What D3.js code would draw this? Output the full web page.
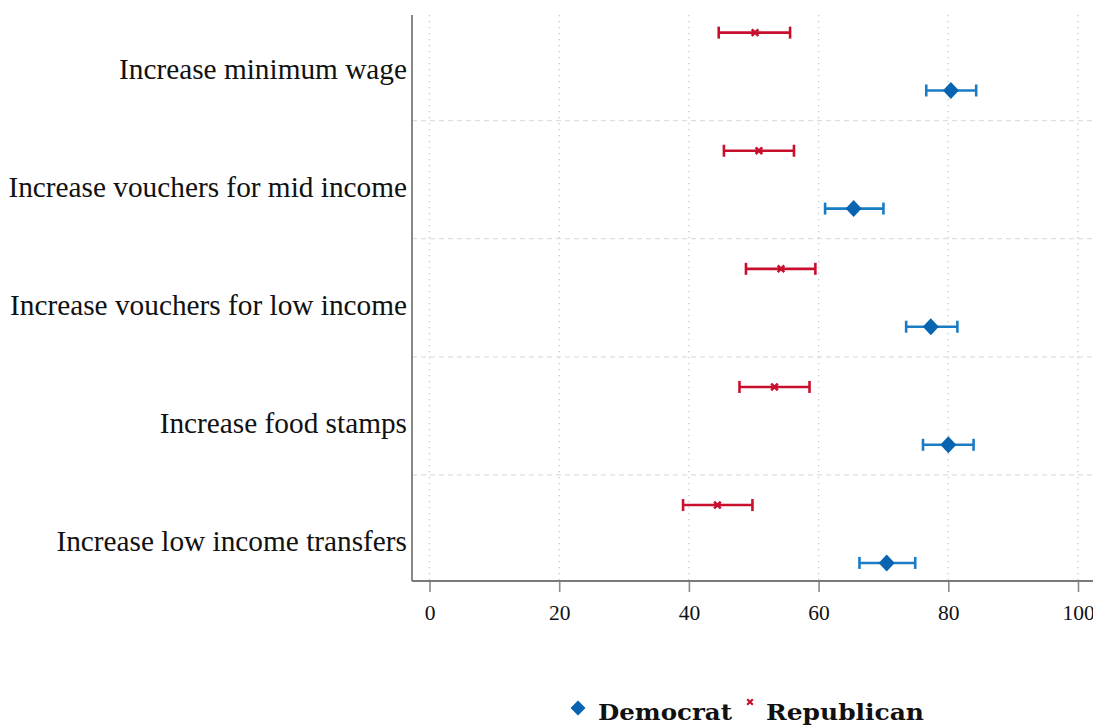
<!DOCTYPE html>
<html>
<head>
<meta charset="utf-8">
<script src="https://cdn.jsdelivr.net/npm/d3@7"></script>
<style>
  html, body { margin: 0; padding: 0; background: #fff; }
  svg { display: block; }
</style>
</head>
<body>
<svg id="chart" width="1093" height="727"></svg>
<script>
// Policy support by party: point estimates with confidence intervals
const categories = [
  "Increase minimum wage",
  "Increase vouchers for mid income",
  "Increase vouchers for low income",
  "Increase food stamps",
  "Increase low income transfers"
];
const demEst = [80.4, 65.4, 77.3, 80.0, 70.5];
const demLo  = [76.6, 61.0, 73.5, 76.1, 66.3];
const demHi  = [84.3, 70.0, 81.4, 83.9, 74.9];
const repEst = [50.2, 50.8, 54.2, 53.2, 44.4];
const repLo  = [44.6, 45.4, 48.8, 47.8, 39.1];
const repHi  = [55.6, 56.2, 59.5, 58.6, 49.8];
const xTicks = [0, 20, 40, 60, 80, 100];
const legendLabels = ["Democrat", "Republican"];

const RED = "#c8102e";
const BLUE_LINE = "#1b7cc4";
const BLUE_FILL = "#0864b0";
const SERIF = "'Liberation Serif', 'DejaVu Serif', serif";

const svg = d3.select("#chart");
const W = 1093;

const plotLeft = 412, plotTop = 15, plotBottom = 581;
const x = d3.scaleLinear().domain([0, 100]).range([429.5, 1078]);
const y = d3.scaleLinear().domain([-0.394, 4.398]).range([plotTop, plotBottom]);
const offset = 0.245;

// vertical dotted gridlines
svg.append("g").selectAll("line").data(xTicks).join("line")
  .attr("x1", d => x(d)).attr("x2", d => x(d))
  .attr("y1", plotTop).attr("y2", plotBottom)
  .attr("stroke", "#c8c8c8").attr("stroke-width", 1.3)
  .attr("stroke-dasharray", "1.3,4.7");

// dashed separators between categories
svg.append("g").selectAll("line").data(d3.range(categories.length - 1)).join("line")
  .attr("x1", plotLeft).attr("x2", W)
  .attr("y1", d => y(d + 0.5)).attr("y2", d => y(d + 0.5))
  .attr("stroke", "#dedede").attr("stroke-width", 1.3)
  .attr("stroke-dasharray", "5,4");

// axes
const xAxis = d3.axisBottom(x).tickValues(xTicks).tickSize(11).tickPadding(13)
  .tickFormat(d3.format("d"));
const gx = svg.append("g").attr("transform", `translate(0,${plotBottom})`).call(xAxis);
gx.select(".domain").remove();
gx.selectAll(".tick line").attr("stroke", "#8a8a8a").attr("stroke-width", 1.6);
gx.selectAll(".tick text").attr("font-family", SERIF).attr("font-size", 21.5)
  .attr("fill", "#111");

svg.append("line")
  .attr("x1", plotLeft).attr("x2", W)
  .attr("y1", plotBottom).attr("y2", plotBottom)
  .attr("stroke", "#7a7a7a").attr("stroke-width", 1.8);
svg.append("line")
  .attr("x1", plotLeft).attr("x2", plotLeft)
  .attr("y1", plotTop).attr("y2", plotBottom)
  .attr("stroke", "#7a7a7a").attr("stroke-width", 1.8);

// category labels
svg.append("g").selectAll("text").data(categories).join("text")
  .attr("x", 407).attr("y", (d, i) => y(i) + 17)
  .attr("text-anchor", "end")
  .attr("font-family", SERIF).attr("font-size", 29.3).attr("fill", "#111")
  .text(d => d);

// interval with end caps
function drawSeries(est, lo, hi, dy, color, marker) {
  const g = svg.append("g");
  const rows = est.map((v, i) => ({ v, lo: lo[i], hi: hi[i], yy: y(i + dy) }));
  const cap = 6;
  g.selectAll("line.ci").data(rows).join("line").attr("class", "ci")
    .attr("x1", d => x(d.lo)).attr("x2", d => x(d.hi))
    .attr("y1", d => d.yy).attr("y2", d => d.yy)
    .attr("stroke", color).attr("stroke-width", 2.6);
  g.selectAll("line.capL").data(rows).join("line").attr("class", "capL")
    .attr("x1", d => x(d.lo)).attr("x2", d => x(d.lo))
    .attr("y1", d => d.yy - cap).attr("y2", d => d.yy + cap)
    .attr("stroke", color).attr("stroke-width", 2.6);
  g.selectAll("line.capR").data(rows).join("line").attr("class", "capR")
    .attr("x1", d => x(d.hi)).attr("x2", d => x(d.hi))
    .attr("y1", d => d.yy - cap).attr("y2", d => d.yy + cap)
    .attr("stroke", color).attr("stroke-width", 2.6);
  marker(g.selectAll("g.pt").data(rows).join("g").attr("class", "pt")
    .attr("transform", d => `translate(${x(d.v)},${d.yy})`));
}

const diamond = sel => sel.append("path")
  .attr("d", "M0,-8.5L8,0L0,8.5L-8,0Z").attr("fill", BLUE_FILL);
const cross = (sel, color) => sel.append("path")
  .attr("d", "M-3.3,-3.3L3.3,3.3M-3.3,3.3L3.3,-3.3").attr("stroke", color)
  .attr("stroke-width", 2.6).attr("fill", "none");

drawSeries(repEst, repLo, repHi, -offset, RED, s => cross(s, RED));
drawSeries(demEst, demLo, demHi, offset, BLUE_LINE, diamond);

// legend
const lg = svg.append("g");
lg.append("path").attr("transform", "translate(578,708)")
  .attr("d", "M0,-7.5L7.5,0L0,7.5L-7.5,0Z").attr("fill", BLUE_FILL);
lg.append("text").attr("x", 598).attr("y", 720)
  .attr("font-family", "'DejaVu Serif', serif").attr("font-weight", "bold")
  .attr("font-size", 22.5).attr("fill", "#111")
  .attr("textLength", 134).attr("lengthAdjust", "spacingAndGlyphs")
  .text(legendLabels[0]);
lg.append("path").attr("transform", "translate(750,702)")
  .attr("d", "M-2.8,-2.8L2.8,2.8M-2.8,2.8L2.8,-2.8")
  .attr("stroke", RED).attr("stroke-width", 2.2).attr("fill", "none");
lg.append("text").attr("x", 766).attr("y", 720)
  .attr("font-family", "'DejaVu Serif', serif").attr("font-weight", "bold")
  .attr("font-size", 22.5).attr("fill", "#111")
  .attr("textLength", 158).attr("lengthAdjust", "spacingAndGlyphs")
  .text(legendLabels[1]);
</script>
</body>
</html>
